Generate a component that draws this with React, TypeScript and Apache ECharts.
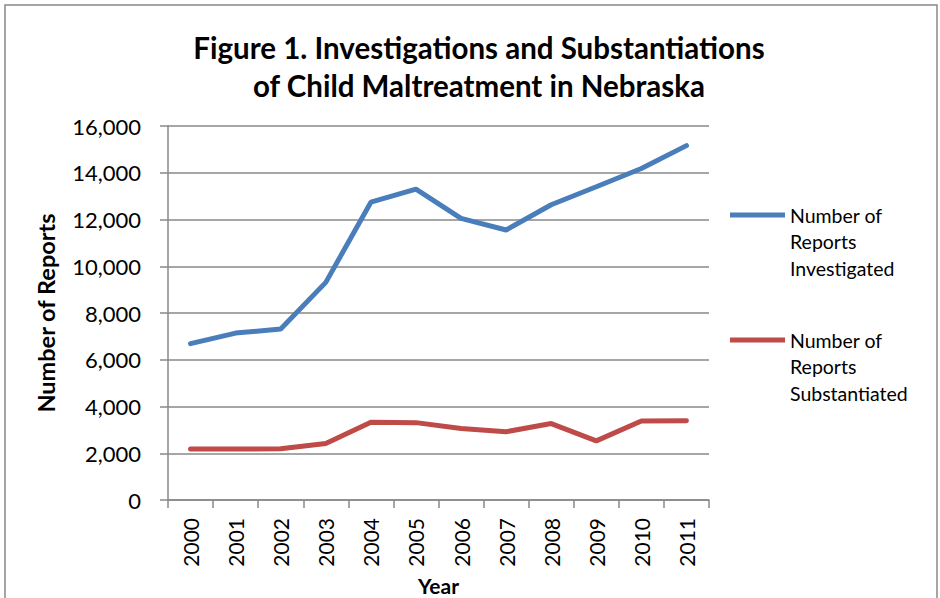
import React, { useEffect, useRef } from "react";
import * as echarts from "echarts";

const years = ["2000", "2001", "2002", "2003", "2004", "2005", "2006", "2007", "2008", "2009", "2010", "2011"];
const investigated = [6690, 7140, 7320, 9310, 12740, 13300, 12050, 11550, 12630, 13400, 14180, 15160];
const substantiated = [2180, 2180, 2190, 2420, 3330, 3310, 3060, 2920, 3270, 2530, 3380, 3390];
const seriesNames = ["Number of\nReports\nInvestigated", "Number of\nReports\nSubstantiated"];
const titleText = "Figure 1. Investigations and Substantiations\nof Child Maltreatment in Nebraska";

const FONT = "Lato";

export default function App() {
  const ref = useRef<HTMLDivElement>(null);
  useEffect(() => {
    if (!ref.current) return;
    const chart = echarts.init(ref.current, null, { renderer: "svg" });
    const legendText = {
      fontFamily: FONT,
      fontSize: 19.5,
      color: "#000",
      lineHeight: 26.5,
    };
    const legendBase = {
      left: 730,
      padding: 0,
      icon: "rect",
      itemWidth: 55,
      itemHeight: 5,
      textStyle: legendText,
      formatter: (name: string) => "\n\n" + name,
    };
    chart.setOption({
      animation: false,
      backgroundColor: "#fff",
      title: {
        text: titleText,
        left: 474,
        textAlign: "center",
        top: 23,
        textStyle: {
          fontFamily: FONT,
          fontSize: 29.5,
          fontWeight: "bold",
          color: "#000",
          lineHeight: 38,
        },
      },
      graphic: [
        {
          type: "rect",
          shape: { x: 5, y: 5, width: 932, height: 620 },
          style: { fill: "none", stroke: "#888", lineWidth: 1.5 },
          silent: true,
        },
      ],
      legend: [
        { ...legendBase, data: [seriesNames[0]], top: 215 - 66.25 },
        { ...legendBase, data: [seriesNames[1]], top: 340 - 66.25 },
      ],
      grid: { left: 168, right: 231, top: 126, bottom: 98, containLabel: false, outerBoundsMode: "none" },
      xAxis: {
        type: "category",
        data: years,
        boundaryGap: true,
        name: "Year",
        nameLocation: "middle",
        nameGap: 70,
        nameTextStyle: { fontFamily: FONT, fontSize: 21, fontWeight: "bold", color: "#000" },
        axisLine: { lineStyle: { color: "#888", width: 1.5 } },
        axisTick: { show: true, length: 8, lineStyle: { color: "#888", width: 1.5 } },
        axisLabel: { rotate: 90, margin: 18, fontFamily: FONT, fontSize: 21, color: "#000", interval: 0 },
      },
      yAxis: {
        type: "value",
        min: 0,
        max: 16000,
        interval: 2000,
        name: "Number of Reports",
        nameLocation: "middle",
        nameGap: 110,
        nameTextStyle: { fontFamily: FONT, fontSize: 23.5, fontWeight: "bold", color: "#000" },
        axisLine: { show: true, lineStyle: { color: "#888", width: 1.5 } },
        axisTick: { show: true, length: 8, lineStyle: { color: "#888", width: 1.5 } },
        splitLine: { lineStyle: { color: "#888", width: 1.5 } },
        axisLabel: {
          margin: 27,
          fontFamily: FONT,
          fontSize: 22,
          color: "#000",
          formatter: (v: number) => v.toLocaleString("en-US"),
        },
      },
      series: [
        {
          name: seriesNames[0],
          type: "line",
          data: investigated,
          symbol: "none",
          lineStyle: { color: "#4A7EBB", width: 5, cap: "round" },
          itemStyle: { color: "#4A7EBB" },
        },
        {
          name: seriesNames[1],
          type: "line",
          data: substantiated,
          symbol: "none",
          lineStyle: { color: "#BE4B48", width: 5, cap: "round" },
          itemStyle: { color: "#BE4B48" },
        },
      ],
    });
    return () => chart.dispose();
  }, []);
  return <div ref={ref} style={{ position: "absolute", left: 0, top: 0, width: 940, height: 598 }} />;
}
